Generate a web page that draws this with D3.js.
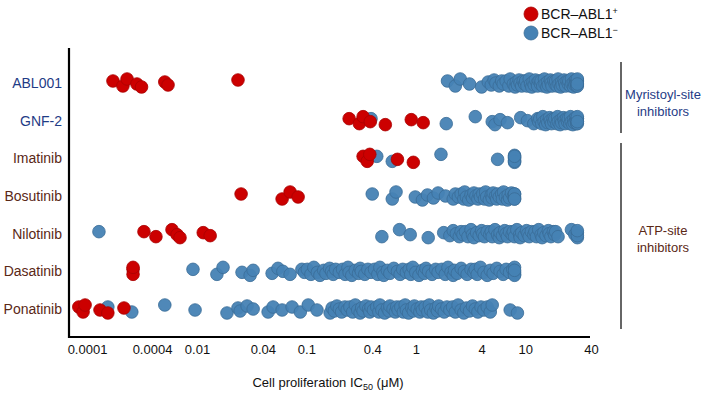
<!DOCTYPE html>
<html>
<head>
<meta charset="utf-8">
<script src="https://cdn.jsdelivr.net/npm/d3@7"></script>
<style>
body { margin: 0; background: #fff; }
text { font-family: "Liberation Sans", Arial, Helvetica, sans-serif; }
</style>
</head>
<body>
<div class="chart"></div>
<script>
var compounds = ["ABL001", "GNF-2", "Imatinib", "Bosutinib", "Nilotinib", "Dasatinib", "Ponatinib"];
var groupOf = ["myr", "myr", "atp", "atp", "atp", "atp", "atp"];

// IC50 values (uM), BCR-ABL1 positive lines
var abl001Pos = [0.000174, 0.000215, 0.000235, 0.00029, 0.00032, 0.0010, 0.00126, 0.0237];
var gnf2Pos = [0.246, 0.305, 0.33, 0.384, 0.527, 0.91, 1.17];
var imatinibPos = [0.33, 0.36, 0.38, 0.68, 0.95];
var bosutinibPos = [0.0253, 0.060, 0.071, 0.084];
var nilotinibPos = [0.000337, 0.00053, 0.00167, 0.0024, 0.00297, 0.0114, 0.0132];
var dasatinibPos = [0.000267, 0.000267, 0.000267];
var ponatinibPos = [0.000084, 0.000092, 0.000096, 0.000132, 0.000156, 0.00022];

// IC50 values (uM), BCR-ABL1 negative lines
var abl001Neg = [1.95, 2.3, 2.55, 3.1, 4.0, 4.6, 4.9, 5.2, 5.4, 5.8, 6.1, 6.3, 6.7, 7.1, 7.3, 7.8, 8.1, 8.3, 8.5,
  8.8, 9.0, 9.3, 9.6, 9.9, 10.1, 10.4, 10.9, 11.2, 11.5, 11.8, 12.1, 12.4, 12.9, 13.0, 13.4, 13.8, 14.0, 14.5,
  15.0, 15.2, 15.8, 16.0, 16.3, 17.0, 17.3, 17.6, 18.3, 18.8, 19.0, 19.6, 20.0, 20.4, 21.1, 21.5, 21.8, 22.7,
  23.0, 23.5, 24.2, 24.8, 25.1, 26.0, 26.5, 26.8, 27.7, 28.0, 28.5, 29.0, 29.3, 29.6, 30, 30, 30, 30, 30, 30];
var gnf2Neg = [0.39, 1.9, 3.5, 5.0, 5.3, 5.9, 6.9, 9.1, 10.5, 12.0, 13.0, 13.3, 13.6, 14.2, 14.5, 14.9, 15.4,
  15.7, 16.1, 16.7, 17.0, 17.4, 18.0, 18.3, 18.7, 19.5, 19.8, 20.1, 20.9, 21.3, 21.6, 22.4, 22.8, 23.2, 23.9,
  24.4, 24.8, 25.6, 26.0, 26.4, 27.3, 27.7, 28.1, 28.9, 29.3, 29.6, 30, 30, 30, 30, 30, 30];
var imatinibNeg = [0.44, 0.61, 1.7, 5.6, 8, 8, 8, 8, 8, 8, 8];
var bosutinibNeg = [0.40, 0.61, 0.66, 0.99, 1.15, 1.28, 1.45, 1.6, 1.87, 2.2, 2.3, 2.45, 2.6, 2.75, 2.8, 2.9,
  3.05, 3.2, 3.3, 3.4, 3.55, 3.7, 3.8, 3.9, 4.1, 4.25, 4.35, 4.45, 4.7, 4.9, 5.0, 5.1, 5.35, 5.5, 5.6, 5.8,
  6.1, 6.2, 6.35, 6.6, 6.9, 7.0, 7.2, 7.5, 7.8, 8, 8, 8, 8, 8];
var nilotinibNeg = [0.000129, 0.49, 0.71, 0.89, 1.3, 1.8, 2.05, 2.2, 2.35, 2.5, 2.6, 2.7, 2.85, 3.0, 3.2, 3.3,
  3.4, 3.6, 3.8, 4.0, 4.1, 4.25, 4.5, 4.75, 4.9, 5.0, 5.3, 5.6, 5.8, 5.9, 6.2, 6.5, 6.7, 6.9, 7.2, 7.6, 7.8,
  8.0, 8.4, 8.9, 9.0, 9.3, 9.8, 10.3, 10.6, 10.9, 11.4, 12.0, 12.3, 12.7, 13.3, 14.0, 14.3, 14.8, 15.5, 16.3,
  16.6, 17.2, 18.1, 18.6, 19.0, 20.0, 26.5, 28.5, 30, 30, 30, 30];
var dasatinibNeg = [0.0075, 0.0152, 0.0173, 0.0258, 0.0306, 0.0326, 0.0486, 0.055, 0.061, 0.071, 0.091, 0.096,
  0.102, 0.11, 0.117, 0.126, 0.133, 0.144, 0.151, 0.163, 0.17, 0.176, 0.185, 0.2, 0.214, 0.226, 0.24, 0.246,
  0.26, 0.28, 0.3, 0.31, 0.318, 0.342, 0.365, 0.39, 0.42, 0.45, 0.47, 0.5, 0.51, 0.55, 0.58, 0.63, 0.68,
  0.72, 0.76, 0.82, 0.87, 0.9, 0.94, 1.0, 1.07, 1.15, 1.2, 1.24, 1.31, 1.41, 1.52, 1.6, 1.73, 1.86, 1.97,
  2.1, 2.2, 2.26, 2.4, 2.6, 2.78, 2.95, 3.2, 3.4, 3.5, 3.65, 3.9, 4.2, 4.5, 4.8, 5.1, 5.5, 5.9, 6.3, 6.7,
  7.2, 7.7, 8, 8, 8, 8, 8];
var ponatinibNeg = [0.000156, 0.00026, 0.0010, 0.0087, 0.0188, 0.0237, 0.0248, 0.0287, 0.0326, 0.0447, 0.0496,
  0.060, 0.074, 0.088, 0.104, 0.125, 0.165, 0.172, 0.18, 0.19, 0.2, 0.21, 0.225, 0.236, 0.25, 0.265, 0.28,
  0.295, 0.31, 0.32, 0.33, 0.35, 0.37, 0.38, 0.39, 0.41, 0.44, 0.46, 0.47, 0.49, 0.52, 0.55, 0.57, 0.58,
  0.62, 0.65, 0.67, 0.69, 0.73, 0.77, 0.8, 0.82, 0.86, 0.92, 0.95, 0.97, 1.03, 1.09, 1.12, 1.15, 1.22, 1.29,
  1.33, 1.37, 1.45, 1.53, 1.58, 1.62, 1.72, 1.82, 1.93, 2.05, 2.17, 2.3, 2.44, 2.6, 2.75, 2.9, 3.1, 3.3, 3.5,
  3.7, 3.95, 4.2, 4.5, 4.8, 5.0, 7.3, 8.5];

var posSeries = [abl001Pos, gnf2Pos, imatinibPos, bosutinibPos, nilotinibPos, dasatinibPos, ponatinibPos];
var negSeries = [abl001Neg, gnf2Neg, imatinibNeg, bosutinibNeg, nilotinibNeg, dasatinibNeg, ponatinibNeg];

var tickValues = [0.0001, 0.0004, 0.01, 0.04, 0.1, 0.4, 1, 4, 10, 40];
var tickLabels = ["0.0001", "0.0004", "0.01", "0.04", "0.1", "0.4", "1", "4", "10", "40"];

var w = 721;
var h = 395;
var navy = "#1f3c86";
var brown = "#5a2816";
var red = "#cc0000";
var blue = "#4682b4";

// small vertical jitter so overlapping points spread out
var jitter = [-2, 3, -4, 1, 4, -1, 2, -3, 0, 3, -2, 1];

var svg = d3.select(".chart")
    .append("svg")
    .attr("width", w)
    .attr("height", h);

// log axis with a compressed stretch between 0.0004 and 0.01
var x = d3.scaleLog()
    .domain([0.0001, 0.0004, 0.01, 40])
    .range([87, 152, 197, 591]);

var y = d3.scalePoint()
    .domain(compounds)
    .range([83, 309]);

// frame
svg.append("line")
    .attr("x1", 69).attr("x2", 69)
    .attr("y1", 48).attr("y2", 338)
    .attr("stroke", "#000").attr("stroke-width", 2.2);
svg.append("line")
    .attr("x1", 68).attr("x2", 590)
    .attr("y1", 337).attr("y2", 337)
    .attr("stroke", "#000").attr("stroke-width", 2.2);

var xAxis = svg.append("g")
    .attr("transform", "translate(0,345)")
    .call(d3.axisBottom(x)
        .tickValues(tickValues)
        .tickFormat(function(d, i) { return tickLabels[i]; })
        .tickSize(0)
        .tickPadding(0));
xAxis.select(".domain").remove();
xAxis.selectAll("text")
    .attr("dy", "0.71em")
    .style("font-size", "13px")
    .style("font-family", "'Liberation Sans', Arial, sans-serif")
    .attr("fill", "#111");

var yAxis = svg.append("g")
    .attr("transform", "translate(62,0)")
    .call(d3.axisLeft(y).tickSize(0).tickPadding(0));
yAxis.select(".domain").remove();
yAxis.selectAll("text")
    .style("font-size", "14px")
    .style("font-family", "'Liberation Sans', Arial, sans-serif")
    .attr("fill", function(d, i) { return groupOf[i] == "myr" ? navy : brown; });

// x title
var title = svg.append("text")
    .attr("x", 328)
    .attr("y", 387)
    .attr("text-anchor", "middle")
    .attr("font-size", "13px")
    .attr("fill", "#111");
title.append("tspan").text("Cell proliferation IC");
title.append("tspan").text("50").attr("font-size", "9px").attr("dy", 3);
title.append("tspan").text(" (\u03bcM)").attr("dy", -3);

function points(series, type) {
    var out = [];
    series.forEach(function(vals, r) {
        vals.forEach(function(v, i) {
            out.push({ compound: compounds[r], value: v, type: type, j: jitter[i % jitter.length] });
        });
    });
    return out;
}

svg.append("g")
    .selectAll("circle")
    .data(points(negSeries, "neg"))
    .enter()
    .append("circle")
    .attr("cx", function(d) { return x(d.value); })
    .attr("cy", function(d) { return y(d.compound) + d.j; })
    .attr("r", 6.3)
    .attr("fill", blue)
    .attr("stroke", "#3a6c97")
    .attr("stroke-width", 0.8)
    .attr("fill-opacity", 0.95);

svg.append("g")
    .selectAll("circle")
    .data(points(posSeries, "pos"))
    .enter()
    .append("circle")
    .attr("cx", function(d) { return x(d.value); })
    .attr("cy", function(d) { return y(d.compound) + d.j; })
    .attr("r", 6.3)
    .attr("fill", red)
    .attr("stroke", "#a80000")
    .attr("stroke-width", 0.8);

// group brackets on the right
var groups = [
    { name: ["Myristoyl-site", "inhibitors"], y1: 62, y2: 133, ty: 99, color: navy },
    { name: ["ATP-site", "inhibitors"], y1: 143, y2: 329, ty: 235, color: brown }
];
var gr = svg.selectAll("g.grp")
    .data(groups)
    .enter()
    .append("g")
    .attr("class", "grp");
gr.append("line")
    .attr("x1", 621).attr("x2", 621)
    .attr("y1", function(d) { return d.y1; })
    .attr("y2", function(d) { return d.y2; })
    .attr("stroke", "#666")
    .attr("stroke-width", 2);
gr.each(function(d) {
    var t = d3.select(this).append("text")
        .attr("x", 663)
        .attr("y", d.ty)
        .attr("text-anchor", "middle")
        .attr("font-size", "13px")
        .attr("fill", d.color);
    d.name.forEach(function(s, i) {
        t.append("tspan").attr("x", 663).attr("dy", i == 0 ? 0 : 17).text(s);
    });
});

// legend
var legend = [
    { label: "BCR\u2013ABL1", sup: "+", color: red, stroke: "#a80000" },
    { label: "BCR\u2013ABL1", sup: "\u2212", color: blue, stroke: "#3a6c97" }
];
var lg = svg.selectAll("g.leg")
    .data(legend)
    .enter()
    .append("g")
    .attr("class", "leg")
    .attr("transform", function(d, i) { return "translate(531," + (14 + i * 19) + ")"; });
lg.append("circle")
    .attr("r", 7)
    .attr("fill", function(d) { return d.color; })
    .attr("stroke", function(d) { return d.stroke; })
    .attr("stroke-width", 0.8);
var lt = lg.append("text")
    .attr("x", 10)
    .attr("y", 5)
    .attr("font-size", "14px")
    .attr("fill", "#111");
lt.append("tspan").text(function(d) { return d.label; });
lt.append("tspan")
    .attr("font-size", "9px")
    .attr("dy", -5)
    .text(function(d) { return d.sup; });
</script>
</body>
</html>
